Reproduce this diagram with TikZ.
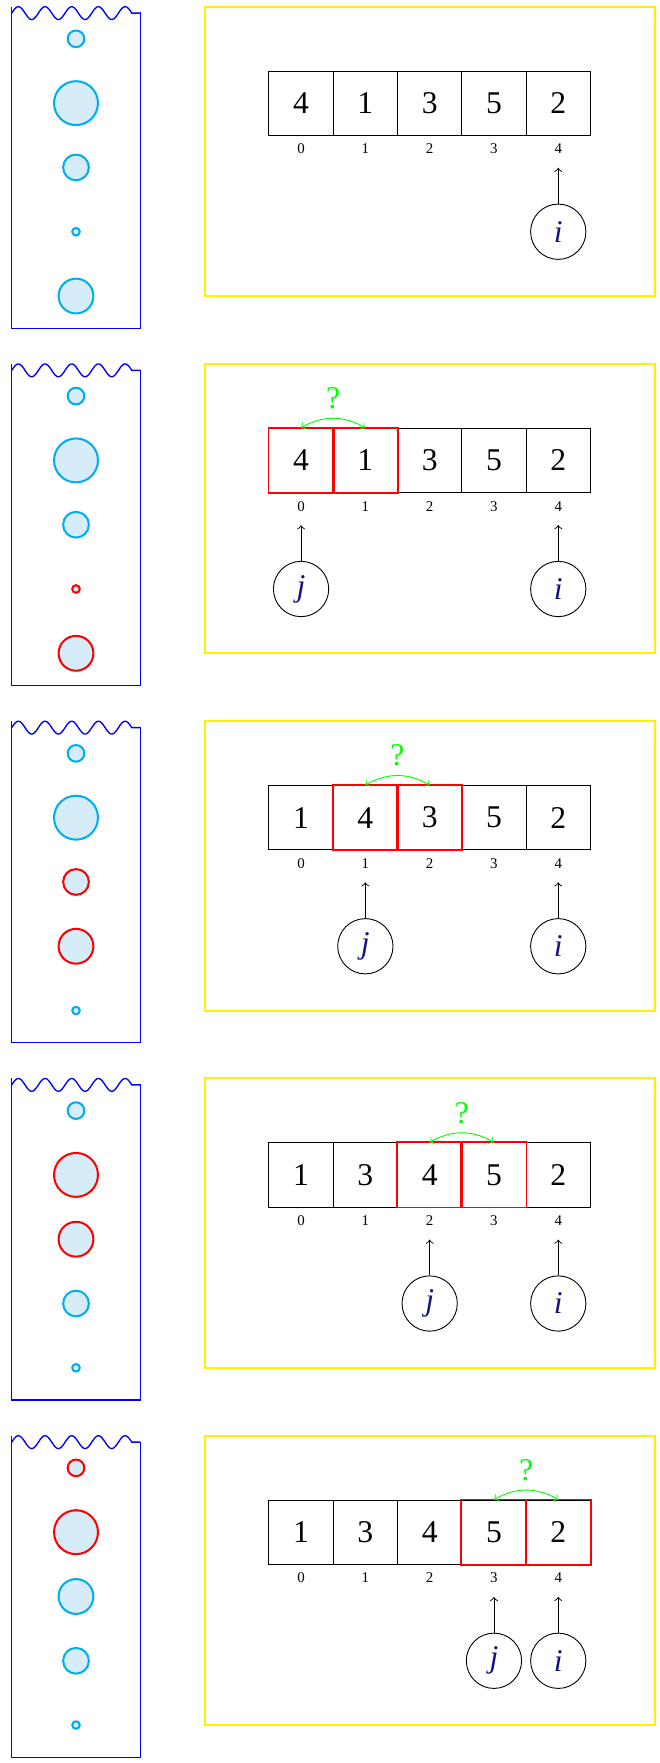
\documentclass[tikz,border=0pt]{standalone}
\usepackage{fontspec}
\setmainfont{Liberation Serif}
\definecolor{bubblestroke}{RGB}{0,174,239}
\definecolor{bubblefill}{RGB}{214,236,249}
\definecolor{ptrtext}{RGB}{20,20,128}
\tikzset{
  cell/.style={draw, thin, minimum size=1cm, inner sep=0pt, font=\fontsize{14}{16}\selectfont},
  hotcell/.style={draw=red, thick},
  idx/.style={inner sep=0pt, font=\fontsize{6.6}{8}\selectfont},
  ptr/.style={draw, thin, circle, minimum size=0.86cm, inner sep=0pt, text=ptrtext, font=\fontsize{14}{16}\selectfont\itshape},
  bub/.style={circle, draw=bubblestroke, fill=bubblefill, line width=0.9pt, inner sep=0pt},
  hotbub/.style={bub, draw=red},
  yframe/.style={draw=yellow, line width=0.9pt},
  tank/.style={draw=blue, semithick},
  swaparc/.style={green, <->},
  qmark/.style={text=green, inner sep=0pt, font=\fontsize{14}{16}\selectfont},
}
\begin{document}
\begin{tikzpicture}
\useasboundingbox (-0.182,0) rectangle (10.067,-27.418);
\foreach \p/\vals/\j in {0/{4,1,3,5,2}/-1, 1/{4,1,3,5,2}/0, 2/{1,4,3,5,2}/1, 3/{1,3,4,5,2}/2, 4/{1,3,4,5,2}/3} {
  \begin{scope}[yshift={-0.104cm-\p*5.556cm}]
    % tank
    \draw[tank] plot[domain=0:1.8675, samples=90, smooth] (\x, {-0.1+0.1*sin(\x/0.415*360)}) -- (2,-0.1);
    \draw[tank] (0,0) -- (0,-5) -- (2,-5) -- (2,-0.09);
    % frame
    \draw[yframe] (3,0) rectangle (10,-4.5);
    % cells, indices, bubbles
    \foreach \v [count=\k from 0] in \vals {
      \pgfmathtruncatemacro{\hot}{(\j>-1)&&((\k==\j)||(\k==\j+1))}
      \pgfmathsetmacro{\dd}{2*(0.0707*\v-0.012)}
      \ifnum\hot=1 \def\bs{hotbub}\else\def\bs{bub}\fi
      \node[cell] (c\p-\k) at (4.5+\k,-1.5) {\v};
      \node[idx] (x\p-\k) at (4.5+\k,-2.213) {\k};
      \node[\bs, minimum size=\dd cm] (b\p-\k) at (1,{-0.5-(4-\k)}) {};
    }
    % pointer i
    \node[ptr] (i\p) at (8.5,-3.5) {i};
    \draw[->, shorten >=0.21cm] (i\p) -- (x\p-4);
    \ifnum\j>-1
      \pgfmathtruncatemacro{\jn}{\j+1}
      \draw[hotcell] (c\p-\j.south west) rectangle (c\p-\j.north east);
      \draw[hotcell] (c\p-\jn.south west) rectangle (c\p-\jn.north east);
      \draw[swaparc] (c\p-\j.north) to[bend left=30] (c\p-\jn.north);
      \node[qmark] (q\p) at (5+\j,-0.534) {?};
      \node[ptr] (j\p) at (4.5+\j,-3.5) {j};
      \draw[->, shorten >=0.21cm] (j\p) -- (x\p-\j);
    \fi
  \end{scope}
}
\end{tikzpicture}
\end{document}
